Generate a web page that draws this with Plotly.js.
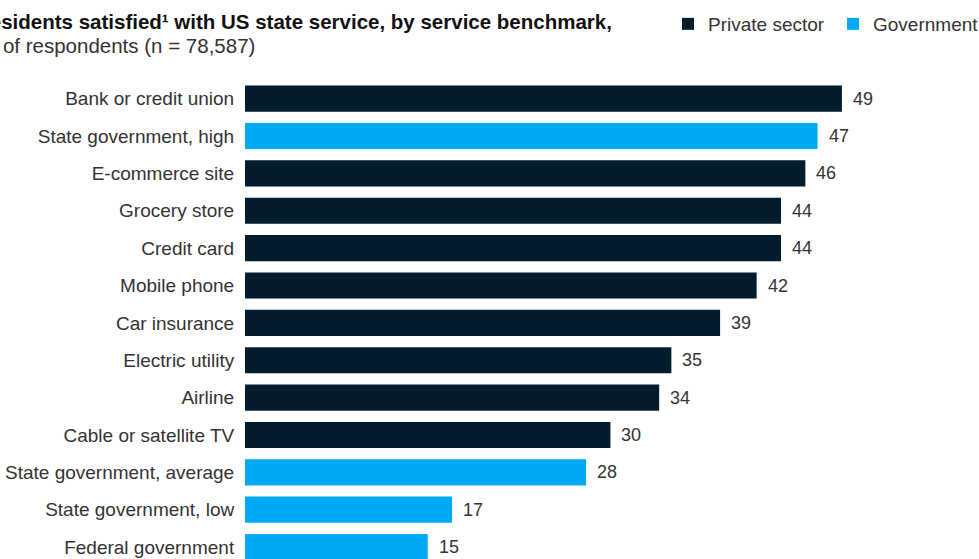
<!DOCTYPE html>
<html>
<head>
<meta charset="utf-8">
<script src="https://cdn.plot.ly/plotly-3.0.1.min.js"></script>
<style>html,body{margin:0;padding:0;background:#fff;}#chart{width:979px;height:559px;}</style>
</head>
<body>
<div id="chart"></div>
<script>
const categories = ["Bank or credit union","State government, high","E-commerce site","Grocery store","Credit card","Mobile phone","Car insurance","Electric utility","Airline","Cable or satellite TV","State government, average","State government, low","Federal government"];
const sectors = ["Private sector","Government","Private sector","Private sector","Private sector","Private sector","Private sector","Private sector","Private sector","Private sector","Government","Government","Government"];
const values = [49,47,46,44,44,42,39,35,34,30,28,17,15];
const seriesNames = ["Private sector","Government"];
const seriesColors = {"Private sector":"#051C2C","Government":"#00A9F4"};
const titleLine1 = "Residents satisfied¹ with US state service, by service benchmark,";
const titleLine2 = "% of respondents (n = 78,587)";

const FONT = "'Liberation Sans', Arial, sans-serif";
const W = 979, H = 559;
const traces = seriesNames.map(name => {
  const ys = [], xs = [];
  categories.forEach((c,i) => { if (sectors[i] === name) { ys.push(c); xs.push(values[i]); } });
  return {type:"bar", orientation:"h", name:name, x:xs, y:ys, width:0.7,
    marker:{color:seriesColors[name], line:{width:0}}, hoverinfo:"x+y"};
});
const annotations = categories.map((c,i) => ({
  x: values[i], y: c, xref:"x", yref:"y", text: String(values[i]),
  showarrow:false, xanchor:"left", yanchor:"middle", xshift:9,
  font:{family:FONT, size:18, color:"#333333"}
}));
annotations.push({xref:"paper", yref:"paper", x:(614-245)/(915-245), y:1, yshift:80.3-22, xanchor:"right", yanchor:"middle",
  text:"<b>"+titleLine1+"</b>", showarrow:false, font:{family:FONT, size:20.5, color:"#111111"}});
annotations.push({xref:"paper", yref:"paper", x:(257-245)/(915-245), y:1, yshift:80.3-46, xanchor:"right", yanchor:"middle",
  text:titleLine2, showarrow:false, font:{family:FONT, size:20.5, color:"#333333"}});

const layout = {
  width:W, height:H,
  margin:{l:245, r:64, t:80.3, b:0, autoexpand:false},
  paper_bgcolor:"#ffffff", plot_bgcolor:"#ffffff",
  barmode:"overlay",
  showlegend:true,
  legend:{orientation:"h", xref:"container", yref:"container", x:668/W, xanchor:"left", y:1-24/H, yanchor:"middle",
    font:{family:FONT, size:19, color:"#333333"}, entrywidth:120, itemclick:false, bgcolor:"rgba(0,0,0,0)"},
  xaxis:{range:[0,55], showgrid:false, zeroline:false, showticklabels:false, ticks:"", showline:false, fixedrange:true},
  yaxis:{type:"category", categoryorder:"array", categoryarray:categories, range:[12.32,-0.5], autorange:false,
    showgrid:false, zeroline:false, showline:false, ticks:"outside", ticklen:6, tickcolor:"rgba(0,0,0,0)",
    tickfont:{family:FONT, size:19, color:"#333333"}, fixedrange:true},
  annotations:annotations
};
Plotly.newPlot("chart", traces, layout, {displayModeBar:false, staticPlot:true});
</script>
</body>
</html>
